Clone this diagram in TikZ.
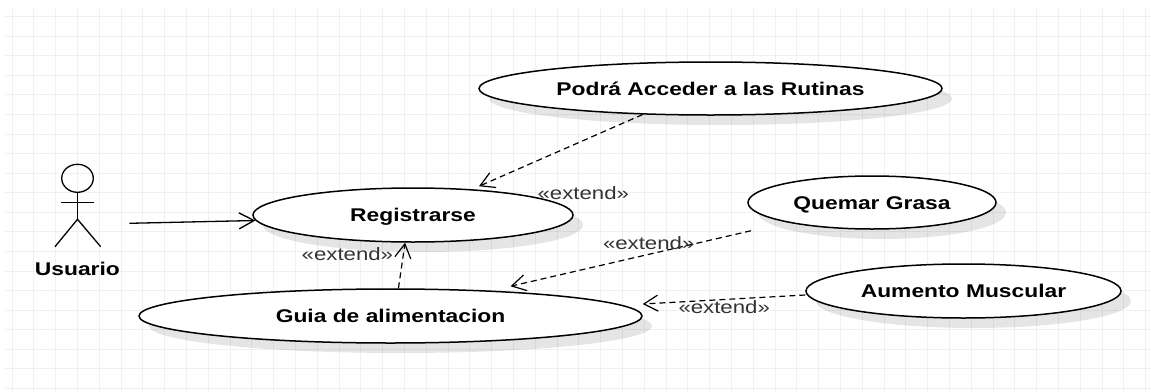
\documentclass[tikz,border=0pt]{standalone}
\usepackage{fontspec}
\setmainfont{Liberation Sans}[FakeStretch=1.24]
\usepackage{xcolor}
\usetikzlibrary{shapes.geometric,arrows.meta,calc,shadows}

\begin{document}
\begin{tikzpicture}[x=1pt, y=-1pt,
		gridline/.style={draw=black!6, line width=0.9pt},
		usecase/.style={ellipse, draw, line width=1.5pt, fill=white, inner sep=0pt,
			text height=13.2pt, text depth=0pt,
			font=\fontsize{18.4}{22}\selectfont\bfseries,
			drop shadow={shadow xshift=10pt, shadow yshift=-10pt, fill=black, opacity=0.1}},
		actor/.style={line width=1.3pt},
		assoc/.style={line width=1.3pt, -{Straight Barb[length=15pt, width=16pt]}},
		extarrow/.style={line width=1.2pt, dash pattern=on 6pt off 4pt, -{Straight Barb[length=14pt, width=16pt]}},
		extlabel/.style={anchor=base, inner sep=0pt, text=black!80, font=\fontsize{17.9}{21}\selectfont}]

			% Draw the white page and the grid
			\fill[white] (0,0) rectangle (1151,391);
			\useasboundingbox (0,0) rectangle (1151,391);
			\foreach \i in {0,...,52}
				\draw[gridline] ({12+21.8*\i},8) -- ({12+21.8*\i},391);
			\foreach \j in {0,...,19}
				\draw[gridline] (5,{16.7+19.56*\j}) -- (1151,{16.7+19.56*\j});

			% Draw the actor
			\draw[actor] (77.5,178.3) ellipse (15.8 and 14);
			\draw[actor] (77.5,192.3) -- (77.5,219.3) (61,202.3) -- (94,202.3);
			\draw[actor] (55,246.7) -- (77.5,219.3) -- (100.7,246.7);
			\node[anchor=base, inner sep=0pt, font=\fontsize{18.4}{22}\selectfont\bfseries] (usuario) at (77.4,275) {Usuario};
			\coordinate (usr) at (129.3,223.3);

			% Draw the use cases
			\node[usecase, minimum width=463pt, minimum height=53pt] (rutinas) at (710.5,88.5) {Podrá Acceder a las Rutinas};
			\node[usecase, minimum width=320pt, minimum height=54pt] (registro) at (413,215) {Registrarse};
			\node[usecase, minimum width=503pt, minimum height=54pt] (guia) at (390.5,316) {Guia de alimentacion};
			\node[usecase, minimum width=248pt, minimum height=53pt] (grasa) at (872,202.5) {Quemar Grasa};
			\node[usecase, minimum width=315pt, minimum height=54pt] (musculo) at (963.5,291) {Aumento Muscular};

			% Draw the association and the extend relations
			\draw[assoc] (usr) -- (registro.182);
			\draw[extarrow] (rutinas.201) -- ($(registro.north)+(66,-1)$);
			\draw[extarrow] (guia.74.5) -- (registro.254.5);
			\draw[extarrow] ($(grasa.south)+(-121,1)$) -- ($(guia.north)+(120,-2)$);
			\draw[extarrow] ($(musculo.west)+(0,4)$) -- ($(guia.east)+(0,-12)$);

			% Draw the stereotype labels
			\node[extlabel] (ext1) at (583.3,199.3) {«extend»};
			\node[extlabel] (ext2) at (347.4,260.5) {«extend»};
			\node[extlabel] (ext3) at (648.7,249.5) {«extend»};
			\node[extlabel] (ext4) at (724.2,313.3) {«extend»};
		\end{tikzpicture}
\end{document}
